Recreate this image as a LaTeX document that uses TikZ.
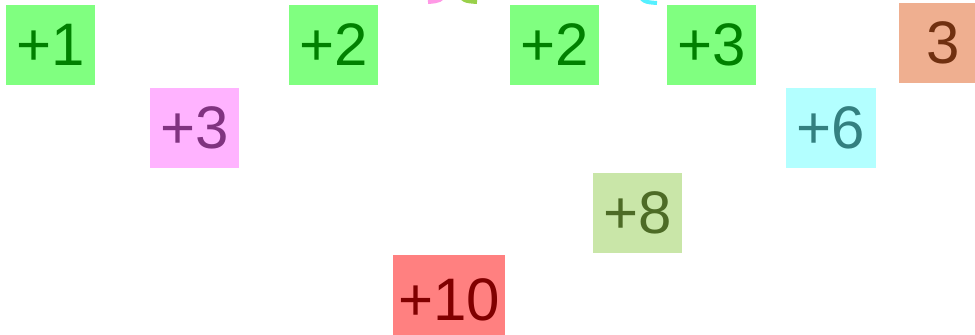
\documentclass[tikz,border=0pt]{standalone}
\usepackage{fontspec}
\setmainfont{Liberation Sans}
\usepackage{tikz}
\usetikzlibrary{arrows.meta,positioning}

\definecolor{gfill}{HTML}{80FF80}
\definecolor{gtext}{HTML}{008000}
\definecolor{pfill}{HTML}{FFB3FF}
\definecolor{ptext}{HTML}{803380}
\definecolor{cfill}{HTML}{B3FFFF}
\definecolor{ctext}{HTML}{338080}
\definecolor{lfill}{HTML}{C9E6A8}
\definecolor{ltext}{HTML}{4D6B26}
\definecolor{rfill}{HTML}{FF8080}
\definecolor{rtext}{HTML}{800000}
\definecolor{ofill}{HTML}{EFAF90}
\definecolor{otext}{HTML}{703010}
\definecolor{parc}{HTML}{FF99E6}
\definecolor{garc}{HTML}{99D04A}
\definecolor{carc}{HTML}{55F0FF}

\begin{document}
\begin{tikzpicture}[x=0.5pt, y=-0.5pt, thick]
    \tikzstyle{tile} = [inner sep=0pt, minimum width=44.5pt, minimum height=40pt, font=\fontsize{30}{32}\selectfont]
    \tikzstyle{plus} = [tile, fill=gfill, text=gtext]
    \tikzstyle{arcline} = [line width=2pt]

    \useasboundingbox (0,0) rectangle (975,334);
    \clip (0,0) rectangle (975,334);

    % top row
    \node [plus] (one) at (50.5,45) {+1};
    \node [plus] (twoa) at (333.5,45) {+2};
    \node [plus] (twob) at (554.5,45) {+2};
    \node [plus] (three) at (711.5,45) {+3};
    \node [tile, fill=ofill, text=otext] (goal) at (943.5,43) {3};

    % lower rows
    \node [tile, fill=pfill, text=ptext] (pink) at (194.5,128) {+3};
    \node [tile, fill=cfill, text=ctext, minimum width=45pt] (six) at (831,128) {+6};
    \node [tile, fill=lfill, text=ltext] (eight) at (637.5,213) {+8};
    \node [tile, fill=rfill, text=rtext, minimum width=56pt, minimum height=45pt] (ten) at (449,300) {+10};

    % arcs leaving the frame
    \coordinate (pa) at (448,-8);
    \coordinate (pb) at (428,2);
    \coordinate (ga) at (456,-8);
    \coordinate (gb) at (477,2);
    \coordinate (ca) at (636,-8);
    \coordinate (cb) at (657,3);
    \draw [arcline, parc] (pa) .. controls (440,1) .. (pb);
    \draw [arcline, garc] (ga) .. controls (464,1) .. (gb);
    \draw [arcline, carc] (ca) .. controls (644,2) .. (cb);
\end{tikzpicture}
\end{document}
